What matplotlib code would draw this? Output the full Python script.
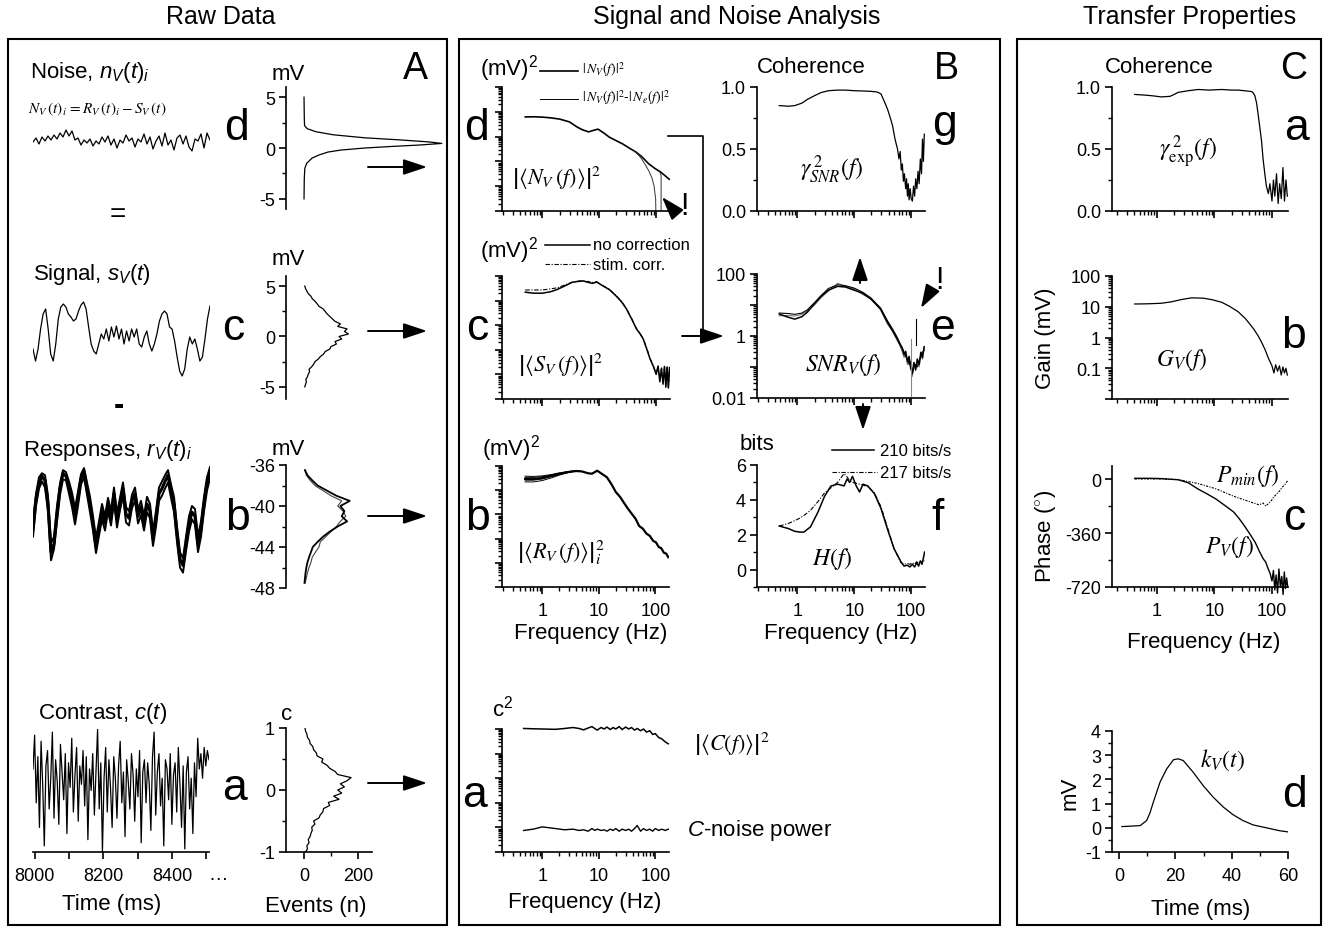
import numpy as np
import matplotlib
matplotlib.use("Agg")
import matplotlib.pyplot as plt
from matplotlib.patches import Rectangle, FancyArrowPatch
from matplotlib.lines import Line2D
from matplotlib.ticker import FixedLocator, LogLocator, NullFormatter, FuncFormatter, MultipleLocator

plt.rcParams.update({
    "font.family": ["Liberation Sans", "DejaVu Sans"],
    "mathtext.fontset": "custom",
    "mathtext.rm": "Liberation Sans",
    "mathtext.it": "Liberation Sans:italic",
    "mathtext.bf": "Liberation Sans:bold",
    "axes.linewidth": 1.2,
    "axes.unicode_minus": False,
})

# ---------------- Raw data (panel A) ----------------
noise_mv = [0.0, 0.4, -0.2, 0.5, 0.1, 0.6, 0.2, 0.7, 0.3, 0.9,
            0.5, 1.2, 0.6, 1.1, 0.2, 0.4, -0.3, 0.2, -0.1, 0.3,
            -0.4, 0.1, -0.2, 0.5, 0.0, 0.6, -0.3, 0.3, -0.6, 0.2,
            -0.1, 0.7, 0.1, 0.4, -0.5, 0.3, 0.0, 0.8, -0.2, 0.5,
            -0.7, 0.1, 0.6, -0.4, 0.9, -0.3, 0.2, -0.8, 0.4, 0.7,
            -0.2, 0.6, -0.5, -0.9, 0.3, 0.1, 0.8, -0.6, 0.9, 0.2]

signal_mv = [-1.1, -2.3, -1.1, 0.9, 2.4, 2.9, 0.9, -1.6, -2.3, -0.6,
             1.9, 3.1, 3.4, 3.1, 2.4, 2.1, 1.7, 1.9, 2.7, 3.3,
             3.6, 2.9, 1.1, -0.6, -1.3, -1.6, -0.6, 0.4, -0.1, 0.9,
             -0.3, 1.1, 0.1, 1.2, -0.1, 0.9, -0.6, 0.7, -0.3, 0.9,
             0.1, 0.9, -0.6, -0.9, 0.1, 0.7, -0.6, -1.3, -0.6, 0.4,
             1.7, 2.4, 2.7, 2.4, 1.1, 0.9, -0.3, -1.9, -3.3, -3.8,
             -3.1, -1.1, 0.1, -0.6, -0.1, -1.1, -2.3, -1.9, -0.1, 1.9, 3.2]

resp_1 = [-42.2, -39.3, -37.8, -37.1, -37.5, -39.8, -44.5, -43.7, -40.8, -38.3,
          -36.8, -37.1, -38.1, -39.3, -41.0, -39.3, -37.3, -36.6, -38.3, -39.8,
          -41.7, -43.9, -42.2, -40.5, -41.7, -39.8, -41.2, -38.8, -41.4, -39.8,
          -38.3, -40.8, -41.2, -39.5, -38.8, -41.0, -40.1, -41.7, -39.8, -40.5,
          -43.2, -41.2, -38.8, -38.3, -37.6, -37.0, -38.5, -39.8, -42.7, -45.2,
          -45.8, -43.7, -41.7, -40.6, -41.0, -43.7, -42.2, -39.8, -37.8, -36.6]
resp_2 = [-43.0, -40.0, -38.3, -37.6, -38.2, -40.5, -45.3, -44.2, -41.5, -38.9,
          -37.4, -37.5, -38.8, -40.1, -41.8, -40.0, -37.9, -37.2, -38.9, -40.6,
          -42.4, -44.6, -42.9, -41.3, -42.4, -40.5, -41.9, -39.6, -42.1, -40.4,
          -39.0, -41.6, -41.9, -40.2, -39.5, -41.7, -40.9, -42.4, -40.6, -41.2,
          -43.9, -42.0, -39.5, -39.0, -38.3, -37.7, -39.2, -40.6, -43.5, -46.0,
          -46.5, -44.4, -42.5, -41.3, -41.8, -44.5, -43.0, -40.5, -38.5, -37.3]
resp_3 = [-41.5, -38.8, -37.2, -36.8, -37.0, -39.0, -43.6, -43.0, -40.0, -37.8,
          -36.5, -36.7, -37.6, -38.7, -40.2, -38.6, -36.9, -36.3, -37.7, -39.1,
          -41.0, -43.1, -41.5, -39.8, -41.0, -39.2, -40.5, -38.2, -40.7, -39.2,
          -37.7, -40.1, -40.5, -38.9, -38.2, -40.3, -39.5, -41.0, -39.1, -39.8,
          -42.5, -40.5, -38.2, -37.6, -37.0, -36.5, -37.9, -39.1, -42.0, -44.5,
          -45.1, -43.0, -41.0, -40.0, -40.3, -43.0, -41.5, -39.1, -37.2, -36.2]

contrast = [0.35, 0.9, -0.2, 0.55, -0.6, 0.8, 0.1, -0.9, 0.4, 0.65,
            -0.3, 0.2, 0.95, -0.45, 0.5, 0.15, -0.55, 0.75, 0.3, -0.15,
            0.6, -0.7, 0.45, 0.05, 0.85, -0.35, 0.25, 0.7, -0.5, 0.4,
            0.1, 0.65, -0.25, 0.55, -0.8, 0.35, 0.0, 0.6, -0.4, 0.3,
            1.0, -0.3, 0.45, -1.0, 0.2, 0.7, -0.35, 0.5, 0.05, -0.6,
            0.55, 0.2, -0.45, 0.4, 0.8, -0.2, 0.3, -0.75, 0.5, 0.15,
            -0.3, 0.6, 0.25, -0.5, 0.35, -0.1, 0.65, -0.85, 0.3, 0.5,
            -0.2, 0.45, 0.1, -0.65, 0.55, 0.95, -0.4, 0.3, 0.6, -0.25,
            0.2, -0.9, 0.5, 0.35, -0.15, 0.6, -0.55, 0.25, 0.45, -0.35,
            0.7, 0.1, -0.6, 0.4, -0.95, 0.3, 0.55, -0.3, 0.2, -0.7,
            0.45, -0.1, 0.85, 0.35, 0.6, 0.2, 0.7, 0.4, 0.65, 0.5]

hist_d_mv = [5.0, 3.0, 2.2, 1.9, 1.6, 1.3, 1.0, 0.8, 0.6, 0.45, 0.3,
             0.15, 0.0, -0.2, -0.4, -0.7, -1.0, -1.5, -2.0, -3.0, -5.0]
hist_d_counts = [0, 1, 2, 12, 45, 110, 230, 360, 470, 520, 440,
                 330, 230, 140, 90, 55, 30, 10, 3, 1, 0]
hist_c_counts = [2, 5, 8, 6, 12, 15, 20, 18, 28, 35, 40, 52, 60, 72, 78, 95, 100, 120, 115, 140,
                 130, 165, 150, 160, 125, 135, 115, 105, 95, 85, 78, 70, 55, 48, 40, 30, 25, 15,
                 10, 5, 2]
hist_b_main = [1, 3, 5, 8, 12, 18, 25, 32, 50, 70, 95, 125, 160, 140, 150, 135, 170, 120,
               85, 50, 30, 12, 3]
hist_b_alt = [4, 8, 12, 18, 25, 30, 42, 55, 60, 80, 100, 120, 135, 155, 145, 125, 140, 100,
              70, 40, 22, 8, 2]
hist_a_counts = [5, 12, 10, 18, 15, 22, 25, 30, 28, 40, 35, 55, 60, 70, 72, 95, 90, 130, 110,
                 140, 125, 150, 135, 160, 175, 125, 115, 95, 85, 65, 70, 48, 45, 35, 32, 22,
                 20, 12, 10, 5, 3]

# ---------------- Spectra (panel B) ----------------
nv_freq = [0.5, 0.7, 1, 1.4, 2, 3, 4, 5, 6.5, 8, 9.5, 12, 15, 20, 26, 34, 44, 55, 74, 95,
           120, 145, 170]
nv_power = [0.062, 0.063, 0.061, 0.057, 0.051, 0.039, 0.025, 0.019, 0.0155, 0.018, 0.020,
            0.014, 0.0095, 0.0068, 0.0050, 0.0034, 0.0024, 0.0016, 0.00080, 0.00052,
            0.00037, 0.00026, 0.00019]
nve_freq = [40, 48, 55, 64, 74, 84, 92, 98, 100]
nve_power = [0.0027, 0.0019, 0.0013, 0.00075, 0.00042, 0.00022, 0.00010, 3e-5, 1e-6]
nve2_freq = [118, 122, 122]
nve2_power = [0.00033, 0.00028, 1e-6]

sv_freq = [0.5, 0.7, 1, 1.4, 1.8, 2.4, 3.3, 4.2, 5.2, 6.2, 7.6, 9, 11.5, 15, 20, 25, 30, 37,
           45, 52, 59, 68, 78, 90, 100, 108, 116, 124, 132, 140, 148, 156, 164, 172]
sv_nocorr = [0.22, 0.20, 0.20, 0.23, 0.28, 0.38, 0.55, 0.60, 0.63, 0.56, 0.50, 0.57, 0.40,
             0.28, 0.15, 0.085, 0.046, 0.018, 0.0071, 0.0045, 0.0028, 0.0011, 0.00043,
             0.00020, 0.00010, 0.00022, 0.00005, 0.00018, 0.00004, 0.00021, 0.00003,
             0.00020, 0.000028, 0.00019]
sv_stim = [0.27, 0.27, 0.27, 0.30, 0.33, 0.42, 0.55, 0.62, 0.64, 0.60, 0.55, 0.58, 0.41,
           0.29, 0.155, 0.088, 0.047, 0.019, 0.0073, 0.0046, 0.0029, 0.0012, 0.00045,
           0.00021, 0.00011, 0.00020, 0.00006, 0.00017, 0.00005, 0.00020, 0.00004,
           0.00019, 0.00003, 0.00018]

rv_freq = [0.5, 0.7, 1, 1.5, 2, 3, 4, 5, 6.5, 7.6, 9.4, 11, 14, 17, 20, 24, 28, 33, 38, 45,
           52, 60, 70, 80, 92, 103, 115, 128, 142, 156, 170]
rv_mean = [0.29, 0.29, 0.32, 0.40, 0.47, 0.57, 0.62, 0.60, 0.50, 0.48, 0.64, 0.50, 0.34,
           0.17, 0.085, 0.052, 0.030, 0.017, 0.011, 0.0065, 0.0033, 0.0026, 0.0016, 0.0013,
           0.0008, 0.0007, 0.00045, 0.0004, 0.00026, 0.00024, 0.00017]
rv_low_freq = [0.5, 0.7, 1, 1.5, 2, 3, 4]
rv_low_a = [0.22, 0.22, 0.25, 0.33, 0.42, 0.55, 0.62]
rv_low_b = [0.26, 0.26, 0.29, 0.37, 0.45, 0.56, 0.62]
rv_low_c = [0.34, 0.34, 0.36, 0.43, 0.50, 0.59, 0.63]
rv_low_d = [0.38, 0.37, 0.39, 0.45, 0.52, 0.60, 0.63]

c_freq = [0.47, 0.7, 1, 1.7, 2.5, 3.5, 4.5, 5.4, 6.5, 7.6, 8.5, 9.4, 11, 12.5, 14, 16, 18,
          20, 23, 26, 30, 34, 38, 43, 48, 55, 62, 70, 80, 90, 100, 115, 130, 150, 170]
c_power = [1.05, 1.02, 1.0, 0.97, 1.05, 1.15, 1.05, 0.92, 1.1, 1.25, 1.05, 0.9, 1.15, 1.0,
           1.2, 0.95, 1.15, 1.0, 1.25, 0.95, 1.2, 1.0, 1.15, 0.9, 1.05, 0.85, 1.0, 0.75,
           0.85, 0.6, 0.65, 0.45, 0.4, 0.3, 0.25]
c_noise = [7.5e-5, 8.5e-5, 1.05e-4, 9e-5, 8e-5, 8.5e-5, 7.5e-5, 8e-5, 7e-5, 9e-5, 7.5e-5,
           8.5e-5, 7.5e-5, 8e-5, 7e-5, 8.5e-5, 7.5e-5, 9e-5, 7e-5, 8.5e-5, 7.5e-5, 8.5e-5,
           7e-5, 9e-5, 1.2e-4, 7e-5, 9e-5, 7.5e-5, 8.5e-5, 7e-5, 9e-5, 7.5e-5, 8.5e-5,
           7.5e-5, 8.5e-5]

coh_snr_freq = [0.48, 0.7, 0.9, 1.2, 1.5, 2, 2.6, 3.5, 5.1, 7, 10, 14, 19.6, 25, 29.4, 34,
                38.5, 43, 47, 52, 57.5, 61, 64, 67, 70, 73, 76, 80, 83, 86, 89, 92, 96,
                100, 105, 110, 115, 120, 126, 132, 138, 145, 152, 158, 164, 170]
coh_snr = [0.85, 0.845, 0.85, 0.87, 0.90, 0.93, 0.955, 0.97, 0.975, 0.975, 0.97, 0.968,
           0.965, 0.96, 0.945, 0.88, 0.82, 0.75, 0.69, 0.58, 0.50, 0.42, 0.48, 0.33, 0.38,
           0.24, 0.30, 0.18, 0.26, 0.12, 0.22, 0.09, 0.18, 0.10, 0.08, 0.20, 0.12, 0.26,
           0.18, 0.32, 0.22, 0.42, 0.30, 0.58, 0.40, 0.62]

snr_freq = [0.48, 0.7, 0.9, 1.2, 1.5, 2, 2.6, 3.5, 5.1, 7, 10, 14, 19.6, 29, 38, 47, 57, 63,
            70, 75, 80, 86, 92, 98, 105, 112, 120, 128, 138, 148, 158, 169]
snr_a = [5.1, 4.0, 3.5, 4.2, 5.9, 11, 19, 30, 40, 38, 30, 24, 15.5, 7.4, 2.8, 1.5, 0.8,
         0.55, 0.38, 0.25, 0.32, 0.15, 0.22, 0.09, 0.07, 0.14, 0.08, 0.18, 0.12, 0.30,
         0.20, 0.45]
snr_b = [5.5, 5.3, 5.0, 5.5, 7.0, 12, 20, 34, 45, 42, 35, 26, 17, 8.0, 3.2, 1.7, 0.9, 0.6,
         0.42, 0.30, 0.22, 0.18, 0.12, 0.15, 0.06, 0.10, 0.12, 0.10, 0.16, 0.22, 0.30, 0.35]
snr_c = [4.5, 4.6, 4.4, 5.0, 6.5, 10, 17, 28, 50, 40, 33, 22, 16, 7.0, 2.5, 1.4, 0.7, 0.5,
         0.3, 0.2, 0.27, 0.12, 0.2, 0.1, 0.05, 0.12, 0.1, 0.15, 0.1, 0.25, 0.18, 0.4]

h_freq = [0.48, 0.7, 0.89, 1.1, 1.3, 1.7, 2.3, 3, 3.9, 5.1, 6.6, 7.5, 8.3, 9.3, 10.8, 12.4,
          14.2, 17.3, 22.6, 29.5, 38.5, 50, 66, 75, 85, 95, 105, 115, 125, 135, 145, 155,
          165, 172]
h_solid = [2.5, 2.35, 2.2, 2.15, 2.15, 2.45, 3.3, 4.2, 4.8, 4.9, 4.8, 5.2, 5.0, 5.35, 4.8,
           4.45, 4.9, 4.8, 4.35, 3.5, 2.3, 1.2, 0.45, 0.2, 0.25, 0.15, 0.3, 0.15, 0.4, 0.2,
           0.5, 0.3, 0.7, 1.0]
h_dash = [2.5, 2.65, 2.8, 2.95, 3.1, 3.4, 3.9, 4.4, 4.7, 5.0, 5.5, 5.3, 5.1, 5.0, 4.95, 4.9,
          4.85, 4.75, 4.4, 3.6, 2.4, 1.2, 0.4, 0.3, 0.35, 0.3, 0.4, 0.3, 0.45, 0.35, 0.5,
          0.4, 0.55, 0.5]

# ---------------- Transfer properties (panel C) ----------------
coh_exp_freq = [0.41, 0.6, 0.8, 1.2, 1.7, 2.35, 3.5, 5.2, 8, 13.3, 20, 25.9, 33, 41.5, 46,
                50.4, 54, 57.8, 62, 66, 70, 75.5, 80, 86.5, 92, 100, 106, 112, 120, 128,
                136, 145, 155, 165, 175, 185]
coh_exp = [0.94, 0.935, 0.93, 0.92, 0.925, 0.957, 0.97, 0.98, 0.975, 0.98, 0.975, 0.975,
           0.97, 0.965, 0.96, 0.93, 0.87, 0.77, 0.66, 0.56, 0.42, 0.29, 0.20, 0.14, 0.22,
           0.08, 0.25, 0.12, 0.30, 0.06, 0.22, 0.10, 0.35, 0.08, 0.25, 0.12]

gain_freq = [0.41, 0.6, 0.8, 1.2, 1.8, 2.6, 4, 6.4, 9, 13.3, 18, 26, 35, 48, 58, 66, 76, 86,
             93, 100, 108, 116, 125, 135, 145, 155, 165, 175, 185]
gain_mv = [12.3, 12.4, 12.6, 13.0, 14.5, 17, 19.5, 19, 17, 14, 10.5, 6.8, 4.0, 1.9, 1.1,
           0.7, 0.4, 0.22, 0.16, 0.12, 0.07, 0.13, 0.08, 0.12, 0.06, 0.11, 0.07, 0.10, 0.06]

phase_freq = [0.41, 0.8, 1.2, 2.35, 3.5, 5.2, 7.5, 10.6, 15, 21.6, 27, 33, 41, 51, 60, 70,
              78, 86, 93, 100, 106, 112, 118, 125, 132, 140, 148, 156, 164, 172, 180, 188]
phase_v = [5, 5, 3, -5, -25, -67, -100, -133, -175, -220, -265, -311, -365, -422, -480,
           -530, -555, -600, -630, -680, -610, -740, -640, -760, -600, -720, -650, -770,
           -620, -730, -660, -720]
pmin_freq = [0.41, 1.2, 2.35, 5.2, 10.6, 21.6, 40, 60, 70, 78, 86, 95, 105, 120, 135, 150,
             165, 180, 188]
pmin_v = [0, 0, -3, -30, -65, -115, -150, -172, -160, -180, -165, -150, -125, -100, -80,
          -55, -40, -20, -10]

kernel_t = [1, 7.5, 9.8, 11, 12.2, 14.6, 16.9, 19.3, 21, 22.8, 26.3, 29.9, 33.4, 37, 40.5,
            44, 47.6, 52.3, 57, 60]
kernel_mv = [0.05, 0.09, 0.3, 0.62, 1.07, 1.9, 2.43, 2.81, 2.85, 2.78, 2.3, 1.74, 1.27,
             0.86, 0.54, 0.30, 0.12, 0.0, -0.12, -0.17]

# ---------------- figure helpers (pixel coordinates, origin top-left) ----------------
W, H = 1330, 929
fig = plt.figure(figsize=(W / 100, H / 100), dpi=100)


def fxy(x, y):
    return (x / W, 1 - y / H)


def px_axes(x0, y0, x1, y1):
    ax = fig.add_axes([x0 / W, 1 - y1 / H, (x1 - x0) / W, (y1 - y0) / H])
    ax.patch.set_alpha(0)
    for s in ("top", "right"):
        ax.spines[s].set_visible(False)
    ax.tick_params(direction="out", length=5, width=1.2, labelsize=13)
    ax.tick_params(axis="x", pad=6)
    ax.tick_params(axis="y", pad=3)
    ax.tick_params(which="minor", length=3, width=1)
    return ax


def no_x(ax):
    ax.spines["bottom"].set_visible(False)
    ax.tick_params(axis="x", which="both", bottom=False, labelbottom=False)


def no_y(ax):
    ax.spines["left"].set_visible(False)
    ax.tick_params(axis="y", which="both", left=False, labelleft=False)


def ftext(x, y, s, **kw):
    kw.setdefault("ha", "center")
    kw.setdefault("va", "center")
    fig.text(x / W, 1 - y / H, s, **kw)


def farrow(x0, y0, x1, y1):
    fig.add_artist(FancyArrowPatch(fxy(x0, y0), fxy(x1, y1), transform=fig.transFigure,
                                   arrowstyle="-|>,head_length=0.9,head_width=0.3",
                                   mutation_scale=16, lw=1.4, color="k",
                                   shrinkA=0, shrinkB=0))


def fline(xs, ys, **kw):
    kw.setdefault("color", "k")
    kw.setdefault("lw", 1.2)
    fig.add_artist(Line2D([x / W for x in xs], [1 - y / H for y in ys],
                          transform=fig.transFigure, **kw))


def freq_axis(ax, xlim, labels):
    ax.set_xscale("log")
    ax.set_xlim(*xlim)
    ax.xaxis.set_major_locator(FixedLocator([1, 10, 100]))
    ax.xaxis.set_minor_locator(LogLocator(base=10, subs=np.arange(2, 10), numticks=30))
    ax.xaxis.set_minor_formatter(NullFormatter())
    if labels:
        ax.set_xticklabels(["1", "10", "100"])
    else:
        ax.tick_params(axis="x", labelbottom=False)


def log_y(ax, lo, hi, labels=None):
    ax.set_yscale("log")
    ax.set_ylim(lo, hi)
    ax.yaxis.set_major_locator(LogLocator(base=10, numticks=30))
    ax.yaxis.set_minor_locator(LogLocator(base=10, subs=np.arange(2, 10), numticks=30))
    ax.yaxis.set_minor_formatter(NullFormatter())
    if labels is None:
        ax.yaxis.set_major_formatter(NullFormatter())
    else:
        ax.yaxis.set_major_formatter(
            FuncFormatter(lambda v, p: labels.get(int(round(np.log10(v))), "")))


BIG_LC = 32
BIG_UC = 27
LAB = 16
SERIF = dict(math_fontfamily="stix")
LW = 0.9

# ---------------- boxes and titles ----------------
for x0, x1 in [(8, 447), (459, 1000), (1017, 1321)]:
    fig.add_artist(Rectangle(fxy(x0, 926), (x1 - x0) / W, (926 - 40) / H,
                             transform=fig.transFigure, fill=False, lw=1.5, ec="k"))
ftext(221, 17, "Raw Data", fontsize=18)
ftext(737, 17, "Signal and Noise Analysis", fontsize=18)
ftext(1190, 17, "Transfer Properties", fontsize=18)

# ================= Panel A =================
ftext(415, 69, "A", fontsize=BIG_UC)
ftext(30, 78, r"Noise, $n_V(t)_i$", ha="left", va="baseline", fontsize=LAB)
ftext(28, 113, r"$N_V\,(t)_i\,=R_V\,(t)_i-S_V\,(t)$", ha="left", va="baseline",
      fontsize=11, **SERIF)
ftext(118, 215, "=", fontsize=20)
ftext(33, 280, r"Signal, $s_V(t)$", ha="left", va="baseline", fontsize=LAB)
ftext(119, 406, "-", fontsize=22, fontweight="bold")
ftext(23, 456, r"Responses, $r_V(t)_i$", ha="left", va="baseline", fontsize=LAB)
ftext(38, 719, r"Contrast, $c(t)$", ha="left", va="baseline", fontsize=LAB)

ftext(237, 140, "d", va="baseline", fontsize=BIG_LC)
ftext(233, 340, "c", va="baseline", fontsize=BIG_LC)
ftext(237, 530, "b", va="baseline", fontsize=BIG_LC)
ftext(234, 800, "a", va="baseline", fontsize=BIG_LC)

# traces
ax = px_axes(33, 118, 210, 168)
ax.plot(np.arange(len(noise_mv)), noise_mv, "k", lw=LW)
ax.set_xlim(0, len(noise_mv) - 1)
ax.set_ylim(-2.5, 2.5)
ax.axis("off")

ax = px_axes(33, 279, 210, 399)
ax.plot(np.arange(len(signal_mv)), signal_mv, "k", lw=LW)
ax.set_xlim(0, len(signal_mv) - 1)
ax.set_ylim(-6, 6)
ax.axis("off")

ax = px_axes(33, 466, 210, 589)
for tr, w in ((resp_2, 1.4), (resp_3, 1.4), (resp_1, 2.2)):
    ax.plot(np.arange(len(tr)), tr, "k", lw=w)
ax.set_xlim(0, len(resp_1) - 1)
ax.set_ylim(-48, -36)
ax.axis("off")

ax = px_axes(33, 730, 209, 853)
ax.plot(np.linspace(7995, 8508, len(contrast)), contrast, "k", lw=LW)
ax.set_xlim(7995, 8508)
ax.set_ylim(-1, 1)
no_y(ax)
ax.set_xticks([8000, 8100, 8200, 8300, 8400, 8500])
ax.set_xticklabels(["8000", "", "8200", "", "8400", ""])
ftext(218, 876, "…", fontsize=14)
ftext(112, 905, "Time (ms)", fontsize=LAB)

# histograms
ax = px_axes(286, 88, 445, 210)
ax.plot(hist_d_counts, hist_d_mv, "k", lw=LW)
ax.set_xlim(-68, 532)
ax.set_ylim(-6, 6)
ax.set_yticks([-5, 0, 5])
ax.yaxis.set_minor_locator(MultipleLocator(2.5))
no_x(ax)
ftext(288, 80, "mV", va="baseline", fontsize=LAB)

ax = px_axes(286, 277, 372, 400)
ax.plot(hist_c_counts, np.linspace(-5, 5, len(hist_c_counts)), "k", lw=LW)
ax.set_xlim(-68, 253)
ax.set_ylim(-6.2, 6)
ax.set_yticks([-5, 0, 5])
ax.yaxis.set_minor_locator(MultipleLocator(2.5))
no_x(ax)
ftext(288, 265, "mV", va="baseline", fontsize=LAB)

ax = px_axes(286, 466, 372, 589)
hb_mv = np.linspace(-47.5, -36.5, len(hist_b_main))
ax.plot(hist_b_alt, hb_mv, color="#444444", lw=0.8)
ax.plot(hist_b_main, hb_mv, "k", lw=1.3)
ax.set_xlim(-68, 253)
ax.set_ylim(-48, -36)
ax.set_yticks([-48, -44, -40, -36])
ax.yaxis.set_minor_locator(MultipleLocator(2))
no_x(ax)
ftext(288, 455, "mV", va="baseline", fontsize=LAB)

ax = px_axes(286, 729, 372, 853)
ax.plot(hist_a_counts, np.linspace(-1, 1, len(hist_a_counts)), "k", lw=LW)
ax.set_xlim(-68, 253)
ax.set_ylim(-1, 1)
ax.set_yticks([-1, 0, 1])
ax.yaxis.set_minor_locator(MultipleLocator(0.5))
ax.set_xticks([0, 200])
ax.xaxis.set_minor_locator(FixedLocator([100]))
ftext(287, 720, "c", va="baseline", fontsize=LAB)
ftext(316, 907, "Events (n)", fontsize=LAB)

for y in (168, 332, 517, 784):
    farrow(368, y, 427, y)

# ================= Panel B =================
BX = (0.195, 175)
ftext(946, 69, "B", fontsize=BIG_UC)
ftext(477, 140, "d", va="baseline", fontsize=BIG_LC)
ftext(477, 340, "c", va="baseline", fontsize=BIG_LC)
ftext(477, 530, "b", va="baseline", fontsize=BIG_LC)
ftext(474, 807, "a", va="baseline", fontsize=BIG_LC)
ftext(944, 136, "g", va="baseline", fontsize=BIG_LC)
ftext(943, 340, "e", va="baseline", fontsize=BIG_LC)
ftext(938, 530, "f", va="baseline", fontsize=BIG_LC)

# d: noise power
ax = px_axes(502, 88, 670, 212)
ax.plot(nv_freq, nv_power, "k", lw=1.2)
ax.plot(nve_freq, nve_power, color="#333333", lw=0.7)
ax.plot(nve2_freq, nve2_power, color="#333333", lw=0.7)
freq_axis(ax, BX, False)
log_y(ax, 1e-5, 1)
ftext(480, 75, r"(mV)$^2$", ha="left", va="baseline", fontsize=LAB)
fline([540, 578], [72, 72], lw=1.2)
fline([540, 578], [100, 100], lw=0.7)
ftext(582, 70, r"$|\,N_V(f)|^2$", ha="left", fontsize=10, **SERIF)
ftext(582, 98, r"$|\,N_V(f)|^2$-$|\,N_e(f)|^2$", ha="left", fontsize=10, **SERIF)
ftext(557, 178, r"$\left|\langle N_V\,(f)\rangle\right|^2$", fontsize=16, **SERIF)
ftext(684, 207, "!", fontsize=22)
farrow(676, 214, 662, 198)

# c: signal power
ax = px_axes(502, 277, 670, 400)
ax.plot(sv_freq, sv_stim, color="k", lw=0.8, ls=(0, (4, 1.5, 1, 1.5)))
ax.plot(sv_freq, sv_nocorr, "k", lw=1.1)
freq_axis(ax, BX, False)
log_y(ax, 1e-5, 1)
ftext(480, 257, r"(mV)$^2$", ha="left", va="baseline", fontsize=LAB)
fline([545, 590], [246, 246], lw=1.1)
fline([545, 590], [265, 265], lw=0.8, ls=(0, (4, 1.5, 1, 1.5)))
ftext(593, 246, "no correction", ha="left", fontsize=12)
ftext(593, 265, "stim. corr.", ha="left", fontsize=12)
ftext(561, 365, r"$\left|\langle S_V\,(f)\rangle\right|^2$", fontsize=16, **SERIF)

# b: response power
ax = px_axes(502, 467, 669, 588)
for lo in (rv_low_a, rv_low_b, rv_low_c, rv_low_d):
    ax.plot(rv_low_freq, lo, "k", lw=0.7)
ax.plot(rv_freq, rv_mean, "k", lw=1.6)
freq_axis(ax, BX, True)
log_y(ax, 1e-5, 1)
ftext(482, 455, r"(mV)$^2$", ha="left", va="baseline", fontsize=LAB)
ftext(561, 553, r"$\left|\langle R_V\,(f)\rangle\right|_i^2$", fontsize=16, **SERIF)
ftext(591, 633, "Frequency (Hz)", fontsize=LAB)

# a: contrast power
ax = px_axes(502, 730, 669, 853)
ax.plot(c_freq, c_power, "k", lw=1.1, clip_on=False)
ax.plot(c_freq, c_noise, "k", lw=1.0)
freq_axis(ax, BX, True)
log_y(ax, 1e-5, 1)
ftext(503, 717, r"c$^2$", va="baseline", fontsize=LAB)
ftext(732, 744, r"$\left|\langle C(f)\rangle\right|^2$", fontsize=16, **SERIF)
ftext(687, 831, r"$C$-noise power", ha="left", fontsize=LAB)
ftext(585, 903, "Frequency (Hz)", fontsize=LAB)

# g: coherence
ax = px_axes(757, 88, 925, 212)
ax.plot(coh_snr_freq, coh_snr, "k", lw=LW)
freq_axis(ax, BX, False)
ax.set_ylim(0, 1)
ax.set_yticks([0, 0.5, 1.0])
ax.set_yticklabels(["0.0", "0.5", "1.0"])
ax.yaxis.set_minor_locator(MultipleLocator(0.25))
ftext(757, 73, "Coherence", ha="left", va="baseline", fontsize=LAB)
ftext(832, 170, r"$\gamma^{\,2}_{SNR}(f)$", fontsize=17, **SERIF)

# e: SNR
ax = px_axes(757, 275, 925, 399)
ax.plot(snr_freq, snr_c, color="#777777", lw=0.8)
ax.plot(snr_freq, snr_b, "k", lw=0.8)
ax.plot(snr_freq, snr_a, "k", lw=1.1)
ax.plot([100, 100], [0.8, 0.012], color="#888888", lw=0.8)
ax.plot([120, 120], [3.5, 0.5], "k", lw=0.8)
freq_axis(ax, BX, False)
log_y(ax, 0.01, 100, {2: "100", 0: "1", -2: "0.01"})
ftext(843, 365, r"$SNR_V(f)$", fontsize=17, **SERIF)
ftext(939, 281, "!", fontsize=22)
farrow(932, 290, 921, 309)
farrow(860, 284, 860, 258)
farrow(863, 405, 863, 431)

# connector from d to e
fline([668, 703, 703], [137, 137, 337])
farrow(682, 337, 724, 337)

# f: information
ax = px_axes(757, 466, 925, 588)
ax.plot(h_freq, h_dash, "k", lw=0.8, ls=(0, (4, 1.5, 1, 1.5)))
ax.plot(h_freq, h_solid, "k", lw=1.1)
freq_axis(ax, BX, True)
ax.set_ylim(-1, 6)
ax.set_yticks([0, 2, 4, 6])
ax.yaxis.set_minor_locator(MultipleLocator(1))
ftext(740, 450, "bits", ha="left", va="baseline", fontsize=LAB)
fline([832, 874], [451, 451], lw=1.1)
fline([832, 877], [473, 473], lw=0.8, ls=(0, (4, 1.5, 1, 1.5)))
ftext(880, 451, "210 bits/s", ha="left", fontsize=12)
ftext(880, 473, "217 bits/s", ha="left", fontsize=12)
ftext(832, 559, r"$H(f)$", fontsize=17, **SERIF)
ftext(841, 633, "Frequency (Hz)", fontsize=LAB)

# ================= Panel C =================
CX = (0.165, 190)
ftext(1294, 69, "C", fontsize=BIG_UC)
ftext(1296, 140, "a", va="baseline", fontsize=BIG_LC)
ftext(1294, 348, "b", va="baseline", fontsize=BIG_LC)
ftext(1294, 530, "c", va="baseline", fontsize=BIG_LC)
ftext(1294, 807, "d", va="baseline", fontsize=BIG_LC)

ax = px_axes(1112, 88, 1288, 212)
ax.plot(coh_exp_freq, coh_exp, "k", lw=LW)
freq_axis(ax, CX, False)
ax.set_ylim(0, 1)
ax.set_yticks([0, 0.5, 1.0])
ax.set_yticklabels(["0.0", "0.5", "1.0"])
ax.yaxis.set_minor_locator(MultipleLocator(0.25))
ftext(1105, 73, "Coherence", ha="left", va="baseline", fontsize=LAB)
ftext(1188, 152, r"$\gamma^{\,2}_{\rm exp}(f)$", fontsize=17, **SERIF)

ax = px_axes(1112, 277, 1288, 400)
ax.plot(gain_freq, gain_mv, "k", lw=LW)
freq_axis(ax, CX, False)
log_y(ax, 0.01, 100, {2: "100", 1: "10", 0: "1", -1: "0.1"})
ftext(1045, 338, "Gain (mV)", rotation=90, fontsize=LAB)
ftext(1182, 360, r"$G_V(f)$", fontsize=17, **SERIF)

ax = px_axes(1112, 467, 1288, 588)
ax.plot(pmin_freq, pmin_v, "k", lw=0.8, ls=(0, (2, 1.2, 1, 1.2)))
ax.plot(phase_freq, phase_v, "k", lw=1.0, clip_on=False)
freq_axis(ax, CX, True)
ax.set_ylim(-720, 87)
ax.set_yticks([-720, -360, 0])
ax.yaxis.set_minor_locator(MultipleLocator(180))
ftext(1046, 536, r"Phase ($^{\circ}$)", rotation=90, fontsize=LAB)
ftext(1248, 476, r"$P_{min}(f)$", fontsize=17, **SERIF)
ftext(1229, 547, r"$P_V(f)$", fontsize=17, **SERIF)
ftext(1204, 643, "Frequency (Hz)", fontsize=LAB)

ax = px_axes(1112, 732, 1288, 853)
ax.plot(kernel_t, kernel_mv, "k", lw=LW)
ax.set_xlim(-2.5, 60)
ax.set_ylim(-1, 4)
ax.set_xticks([0, 20, 40, 60])
ax.xaxis.set_minor_locator(MultipleLocator(10))
ax.set_yticks([-1, 0, 1, 2, 3, 4])
ax.yaxis.set_minor_locator(MultipleLocator(0.5))
ftext(1070, 793, "mV", rotation=90, fontsize=LAB)
ftext(1222, 760, r"$k_V(t)$", fontsize=17, **SERIF)
ftext(1201, 910, "Time (ms)", fontsize=LAB)

fig.savefig("out.png", dpi=100)
